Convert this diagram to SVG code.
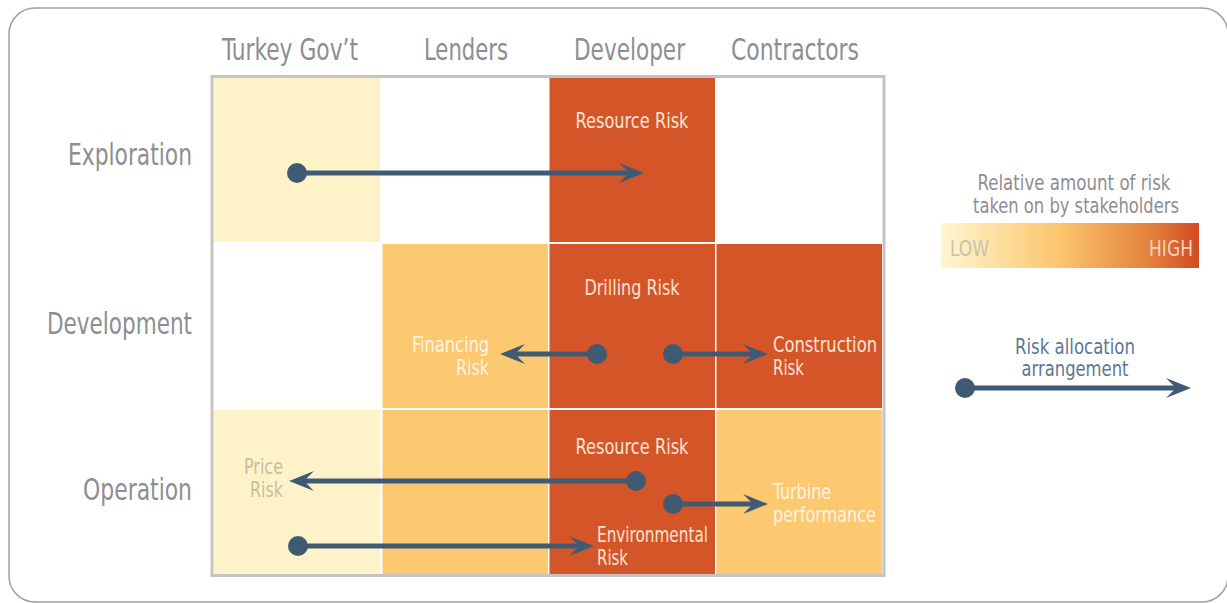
<svg xmlns="http://www.w3.org/2000/svg" width="1227" height="603" viewBox="0 0 1227 603">
<style>
text{font-family:"Liberation Sans Narrow","DejaVu Sans Condensed","Liberation Sans",sans-serif;}
.hdr{font-size:30px;fill:#8e8e92;}
.cell{font-size:22px;}
.onred{fill:#fbe2d4;}
.onorg{fill:#fff4e2;}
.price{fill:#c6bf9f;}
.leg{font-size:21px;fill:#8e8e92;}
.conn{stroke:#3f5b74;stroke-width:5;fill:none;marker-start:url(#dot);marker-end:url(#head);}
.lt{fill:#fef3c8;}
.md{fill:#fcc870;}
.hi{fill:#d45628;}
</style>
<defs>
<marker id="head" markerUnits="userSpaceOnUse" markerWidth="30" markerHeight="26" refX="14" refY="12" orient="auto" overflow="visible">
<path d="M1,2 L26,12 L1,22 L11,12 Z" fill="#3f5b74"/>
</marker>
<marker id="dot" markerUnits="userSpaceOnUse" markerWidth="24" markerHeight="24" refX="12" refY="12" orient="auto" overflow="visible">
<circle cx="12" cy="12" r="10" fill="#3f5b74"/>
</marker>
<linearGradient id="grad" x1="0" y1="0" x2="1" y2="0">
<stop offset="0" stop-color="#fff5d0"/>
<stop offset="0.45" stop-color="#fcc76f"/>
<stop offset="0.8" stop-color="#e4843e"/>
<stop offset="1" stop-color="#d14b21"/>
</linearGradient>
</defs>
<rect x="9" y="8" width="1219" height="594" rx="26" ry="26" fill="#ffffff" stroke="#a0a0a2" stroke-width="1.5"/>

<g id="headers">
<text class="hdr" x="222" y="60" textLength="136" lengthAdjust="spacingAndGlyphs">Turkey Gov’t</text>
<text class="hdr" x="424" y="60" textLength="84" lengthAdjust="spacingAndGlyphs">Lenders</text>
<text class="hdr" x="574" y="60" textLength="111" lengthAdjust="spacingAndGlyphs">Developer</text>
<text class="hdr" x="731" y="60" textLength="128" lengthAdjust="spacingAndGlyphs">Contractors</text>
<text class="hdr" x="192" y="165" text-anchor="end" textLength="124" lengthAdjust="spacingAndGlyphs">Exploration</text>
<text class="hdr" x="192" y="334" text-anchor="end" textLength="145" lengthAdjust="spacingAndGlyphs">Development</text>
<text class="hdr" x="192" y="500" text-anchor="end" textLength="109" lengthAdjust="spacingAndGlyphs">Operation</text>
</g>

<g id="grid">
<rect x="212" y="76.5" width="672" height="499" fill="#ffffff" stroke="#c4c4c6" stroke-width="3"/>
<rect class="lt" x="214" y="78" width="166" height="164"/>
<rect class="hi" x="549.5" y="78" width="165.5" height="164"/>
<rect class="md" x="382.5" y="244" width="165.5" height="164"/>
<rect class="hi" x="549.5" y="244" width="165.5" height="164"/>
<rect class="hi" x="716.5" y="244" width="165.5" height="164"/>
<rect class="lt" x="214" y="410" width="166" height="164"/>
<rect class="md" x="382.5" y="410" width="165.5" height="164"/>
<rect class="hi" x="549.5" y="410" width="165.5" height="164"/>
<rect class="md" x="716.5" y="410" width="165.5" height="164"/>
</g>

<g id="n-resource-exploration">
<text class="cell onred" x="632" y="128" text-anchor="middle" textLength="113" lengthAdjust="spacingAndGlyphs">Resource Risk</text>
</g>
<g id="n-drilling">
<text class="cell onred" x="632" y="295" text-anchor="middle" textLength="95" lengthAdjust="spacingAndGlyphs">Drilling Risk</text>
</g>
<g id="n-financing">
<text class="cell onorg" x="489" y="352" text-anchor="end" textLength="77" lengthAdjust="spacingAndGlyphs">Financing</text>
<text class="cell onorg" x="489" y="375" text-anchor="end" textLength="33" lengthAdjust="spacingAndGlyphs">Risk</text>
</g>
<g id="n-construction">
<text class="cell onred" x="773" y="352" textLength="104" lengthAdjust="spacingAndGlyphs">Construction</text>
<text class="cell onred" x="773" y="375" textLength="31" lengthAdjust="spacingAndGlyphs">Risk</text>
</g>
<g id="n-resource-operation">
<text class="cell onred" x="632" y="454" text-anchor="middle" textLength="113" lengthAdjust="spacingAndGlyphs">Resource Risk</text>
</g>
<g id="n-price">
<text class="cell price" x="283" y="474" text-anchor="end" textLength="39" lengthAdjust="spacingAndGlyphs">Price</text>
<text class="cell price" x="283" y="497" text-anchor="end" textLength="33" lengthAdjust="spacingAndGlyphs">Risk</text>
</g>
<g id="n-turbine">
<text class="cell onorg" x="773" y="499" textLength="58" lengthAdjust="spacingAndGlyphs">Turbine</text>
<text class="cell onorg" x="773" y="522" textLength="103" lengthAdjust="spacingAndGlyphs">performance</text>
</g>
<g id="n-environmental">
<text class="cell onred" x="597" y="542" textLength="111" lengthAdjust="spacingAndGlyphs">Environmental</text>
<text class="cell onred" x="597" y="565" textLength="31" lengthAdjust="spacingAndGlyphs">Risk</text>
</g>

<g id="connectors">
<line class="conn" x1="297" y1="173" x2="632" y2="173"/>
<line class="conn" x1="597" y1="354" x2="512" y2="354"/>
<line class="conn" x1="673" y1="354" x2="756" y2="354"/>
<line class="conn" x1="636" y1="481" x2="301" y2="481"/>
<line class="conn" x1="673" y1="504" x2="756" y2="504"/>
<line class="conn" x1="298" y1="546" x2="582" y2="546"/>
</g>

<g id="legend-scale">
<text class="leg" x="1074" y="190" text-anchor="middle" textLength="193" lengthAdjust="spacingAndGlyphs">Relative amount of risk</text>
<text class="leg" x="1076" y="213" text-anchor="middle" textLength="206" lengthAdjust="spacingAndGlyphs">taken on by stakeholders</text>
<rect x="941" y="223" width="258" height="45" fill="url(#grad)"/>
<text x="950" y="256" font-size="22" fill="#c8c2b0" textLength="39" lengthAdjust="spacingAndGlyphs">LOW</text>
<text x="1193" y="256" font-size="22" fill="#f2d2c2" text-anchor="end" textLength="44" lengthAdjust="spacingAndGlyphs">HIGH</text>
</g>

<g id="legend-arrow">
<text class="leg" x="1075" y="354" text-anchor="middle" fill="#5d7892" style="fill:#5d7892" textLength="120" lengthAdjust="spacingAndGlyphs">Risk allocation</text>
<text class="leg" x="1075" y="376" text-anchor="middle" style="fill:#5d7892" textLength="107" lengthAdjust="spacingAndGlyphs">arrangement</text>
<line class="conn" x1="965" y1="388" x2="1179" y2="388"/>
</g>
</svg>
